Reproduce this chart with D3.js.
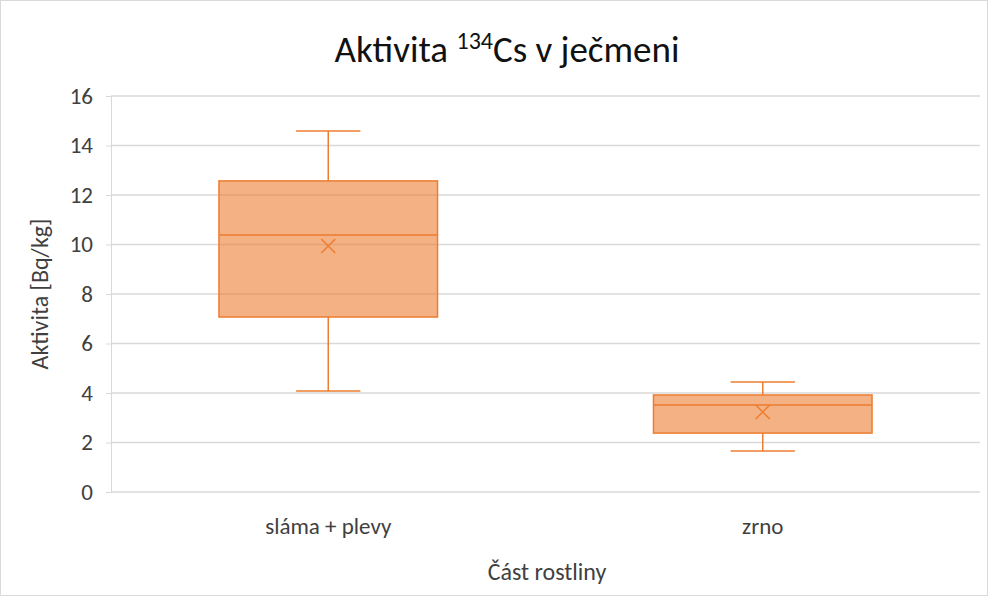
<!DOCTYPE html>
<html>
<head>
<meta charset="utf-8">
<script src="https://cdn.jsdelivr.net/npm/d3@7"></script>
<style>
body { margin: 0; background: #fff; }
text { font-family: Carlito, Lato, "Liberation Sans", sans-serif; fill: #404040; }
</style>
</head>
<body>
<svg id="chart" width="988" height="596"></svg>
<script>
// data
var categories = ["sláma + plevy", "zrno"];
var minVals = [4.08, 1.66];
var q1Vals = [7.07, 2.38];
var medVals = [10.38, 3.52];
var q3Vals = [12.57, 3.92];
var maxVals = [14.59, 4.44];
var meanVals = [9.94, 3.23];
var yTicks = [0, 2, 4, 6, 8, 10, 12, 14, 16];

var svg = d3.select("#chart");
var margin = {top: 96, right: 8, bottom: 104, left: 111};
var width = 988 - margin.left - margin.right;
var height = 596 - margin.top - margin.bottom;

// outer border
svg.append("rect")
	.attr("x", 0.5).attr("y", 0.5)
	.attr("width", 987).attr("height", 595)
	.attr("fill", "#fff")
	.attr("stroke", "#d9d9d9");

var y = d3.scaleLinear().domain([0, 16]).range([height, 0]);
var x = d3.scaleBand().domain(categories).range([0, width]);

var g = svg.append("g").attr("transform", `translate(${margin.left},${margin.top})`);

// gridlines
g.selectAll(".grid")
	.data(yTicks)
	.enter()
	.append("line")
	.attr("x1", 0).attr("x2", width)
	.attr("y1", d => y(d)).attr("y2", d => y(d))
	.attr("stroke", "#d9d9d9")
	.attr("stroke-width", 1.3);

// y axis
var yAxis = g.append("g")
	.call(d3.axisLeft(y).tickValues(yTicks).tickSize(5).tickPadding(13).tickFormat(d3.format("d")));
yAxis.select(".domain").attr("stroke", "#d9d9d9");
yAxis.selectAll(".tick line").attr("stroke", "#d9d9d9");
yAxis.selectAll("text").attr("font-size", 23).attr("fill", "#404040")
	.style("font-family", "Carlito, Lato, 'Liberation Sans', sans-serif");

// x labels
g.selectAll(".xlab")
	.data(categories)
	.enter()
	.append("text")
	.attr("x", d => x(d) + x.bandwidth() / 2)
	.attr("y", height + 42)
	.attr("text-anchor", "middle")
	.attr("font-size", 23)
	.text(d => d);

var color = "#ED7D31";
var boxW = x.bandwidth() * 0.503;
var capW = x.bandwidth() * 0.148;

var boxes = g.selectAll(".box")
	.data(categories)
	.enter()
	.append("g")
	.attr("transform", d => `translate(${x(d) + x.bandwidth() / 2},0)`);

// whiskers
boxes.append("line")
	.attr("x1", 0).attr("x2", 0)
	.attr("y1", (d, i) => y(maxVals[i])).attr("y2", (d, i) => y(q3Vals[i]))
	.attr("stroke", color).attr("stroke-width", 1.5);
boxes.append("line")
	.attr("x1", 0).attr("x2", 0)
	.attr("y1", (d, i) => y(q1Vals[i])).attr("y2", (d, i) => y(minVals[i]))
	.attr("stroke", color).attr("stroke-width", 1.5);
boxes.append("line")
	.attr("x1", -capW / 2).attr("x2", capW / 2)
	.attr("y1", (d, i) => y(maxVals[i])).attr("y2", (d, i) => y(maxVals[i]))
	.attr("stroke", color).attr("stroke-width", 1.5);
boxes.append("line")
	.attr("x1", -capW / 2).attr("x2", capW / 2)
	.attr("y1", (d, i) => y(minVals[i])).attr("y2", (d, i) => y(minVals[i]))
	.attr("stroke", color).attr("stroke-width", 1.5);

// box
boxes.append("rect")
	.attr("x", -boxW / 2)
	.attr("width", boxW)
	.attr("y", (d, i) => y(q3Vals[i]))
	.attr("height", (d, i) => y(q1Vals[i]) - y(q3Vals[i]))
	.attr("fill", color).attr("fill-opacity", 0.6)
	.attr("stroke", color).attr("stroke-width", 1.5);

// median
boxes.append("line")
	.attr("x1", -boxW / 2).attr("x2", boxW / 2)
	.attr("y1", (d, i) => y(medVals[i])).attr("y2", (d, i) => y(medVals[i]))
	.attr("stroke", color).attr("stroke-width", 1.5);

// mean marker
boxes.append("path")
	.attr("d", (d, i) => {
		var cy = y(meanVals[i]), s = 7;
		return `M${-s},${cy - s}L${s},${cy + s}M${-s},${cy + s}L${s},${cy - s}`;
	})
	.attr("stroke", color).attr("stroke-width", 1.5).attr("fill", "none");

// title
var title = svg.append("text")
	.attr("x", 507).attr("y", 62)
	.attr("text-anchor", "middle")
	.attr("font-size", 37)
	.style("fill", "#111");
title.append("tspan").text("Aktivita ");
title.append("tspan").attr("font-size", 24).attr("dy", -13).text("134");
title.append("tspan").attr("dy", 13).text("Cs v ječmeni");

// axis titles
svg.append("text")
	.attr("transform", "translate(48,294) rotate(-90)")
	.attr("text-anchor", "middle")
	.attr("font-size", 24)
	.text("Aktivita [Bq/kg]");
svg.append("text")
	.attr("x", 547).attr("y", 580)
	.attr("text-anchor", "middle")
	.attr("font-size", 24)
	.text("Část rostliny");
</script>
</body>
</html>
